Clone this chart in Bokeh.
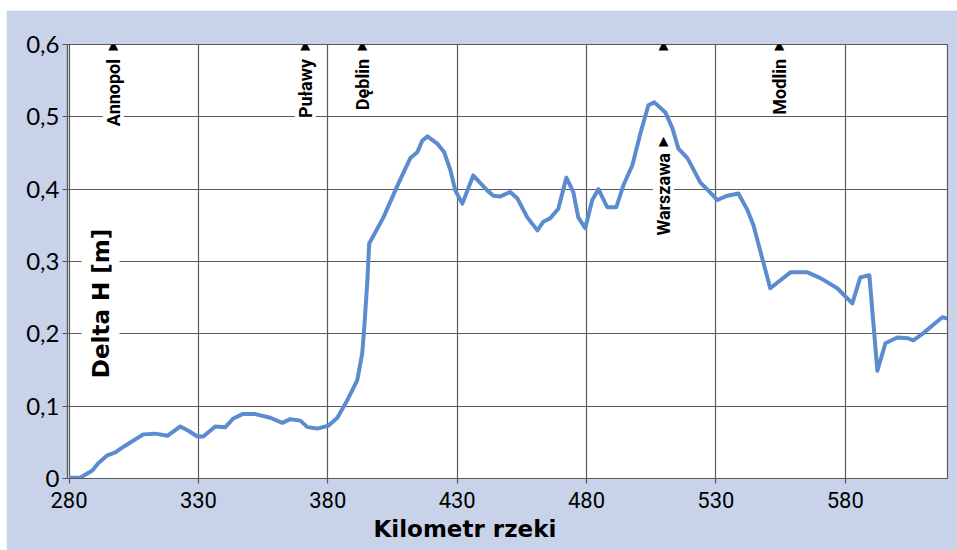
from math import pi
from bokeh.plotting import figure
from bokeh.layouts import column, row
from bokeh.core.properties import value
from bokeh.models import (ColumnDataSource, LabelSet, Label, FixedTicker,
                          CustomJSTickFormatter, Range1d, Spacer, Title)
from bokeh.embed import file_html
from bokeh.resources import INLINE

# --- data ---
km = [280.0, 284.3, 289.0, 291.3, 294.8, 297.9, 299.8, 302.9, 308.7, 313.3,
      318.0, 323.0, 326.1, 329.6, 331.9, 336.5, 340.4, 343.5, 347.0, 352.0,
      357.8, 362.4, 365.5, 369.4, 372.1, 375.9, 380.2, 383.7, 387.5, 391.4,
      393.3, 394.1, 395.3, 396.0, 401.5, 407.3, 411.9, 414.6, 416.5, 418.5,
      422.3, 425.0, 427.4, 429.3, 432.0, 436.2, 441.7, 444.0, 446.7, 450.5,
      453.3, 457.1, 461.0, 463.3, 466.0, 469.1, 472.2, 474.9, 476.8, 479.5,
      482.2, 484.6, 488.0, 491.5, 494.2, 497.7, 500.8, 503.9, 506.2, 510.5,
      513.2, 515.5, 519.0, 524.0, 527.1, 530.6, 534.4, 538.7, 542.2, 544.5,
      551.0, 558.8, 565.4, 570.4, 576.9, 582.7, 585.8, 589.3, 592.4, 595.5,
      600.1, 604.0, 606.3, 610.2, 614.1, 617.5, 619.5]
delta_h = [0.001, 0.001, 0.011, 0.021, 0.032, 0.036, 0.041, 0.048, 0.061, 0.062,
           0.059, 0.072, 0.066, 0.058, 0.058, 0.072, 0.071, 0.083, 0.089, 0.089,
           0.084, 0.077, 0.082, 0.080, 0.071, 0.069, 0.073, 0.084, 0.108, 0.136,
           0.173, 0.209, 0.274, 0.325, 0.361, 0.408, 0.443, 0.451, 0.467, 0.473,
           0.463, 0.451, 0.426, 0.398, 0.380, 0.419, 0.398, 0.391, 0.390, 0.396,
           0.387, 0.361, 0.343, 0.355, 0.360, 0.373, 0.416, 0.396, 0.361, 0.346,
           0.385, 0.400, 0.375, 0.375, 0.405, 0.433, 0.477, 0.516, 0.520, 0.506,
           0.484, 0.456, 0.443, 0.409, 0.398, 0.385, 0.391, 0.394, 0.371, 0.350,
           0.263, 0.285, 0.285, 0.277, 0.263, 0.242, 0.278, 0.281, 0.149, 0.187,
           0.195, 0.194, 0.191, 0.201, 0.213, 0.223, 0.221]

city_names = ["Annopol", "Puławy", "Dęblin", "Warszawa", "Modlin"]
city_km = [297.1, 371.3, 393.3, 509.7, 554.5]

x_ticks = [280, 330, 380, 430, 480, 530, 580]
y_ticks = [0, 0.1, 0.2, 0.3, 0.4, 0.5, 0.6]

BG = "#c8d3ea"
GRID = "#5a5a5a"
LINE = "#5b8ccf"
COND = "Roboto"

p = figure(width=951, height=540, output_backend="svg", toolbar_location=None,
           x_range=Range1d(279.4, 619.5), y_range=Range1d(0, 0.6),
           min_border_left=61, min_border_right=10, min_border_top=34,
           min_border_bottom=72)
p.border_fill_color = BG
p.background_fill_color = "white"
p.outline_line_color = GRID
p.outline_line_width = 1.2

p.xgrid.grid_line_color = GRID
p.ygrid.grid_line_color = GRID
p.xgrid.grid_line_width = 1.2
p.ygrid.grid_line_width = 1.2

p.xaxis.ticker = FixedTicker(ticks=x_ticks)
p.yaxis.ticker = FixedTicker(ticks=y_ticks)
p.yaxis.formatter = CustomJSTickFormatter(
    code='return tick == 0 ? "0" : tick.toFixed(1).replace(".", ",");')

for ax in (p.xaxis[0], p.yaxis[0]):
    ax.axis_line_color = GRID
    ax.axis_line_width = 1.2
    ax.major_tick_line_color = GRID
    ax.major_tick_line_width = 1.2
    ax.major_tick_out = 5
    ax.major_tick_in = 0
    ax.minor_tick_line_color = None
    ax.major_label_text_color = "black"

p.xaxis.major_label_text_font = COND
p.xaxis.major_label_text_font_size = "22px"
p.xaxis.major_label_standoff = 8
p.yaxis.major_label_text_font = "Lato"
p.yaxis.major_label_text_font_size = "24px"
p.yaxis.major_label_standoff = 3

src = ColumnDataSource(data=dict(km=km, dh=delta_h))
p.line("km", "dh", source=src, line_color=LINE, line_width=4, line_join="round")

# city labels (rotated), with white background
label_y = [0.58 if n != "Warszawa" else 0.45 for n in city_names]
lab_src = ColumnDataSource(data=dict(x=city_km, y=label_y, t=city_names))
p.add_layout(LabelSet(x="x", y="y", text="t", source=lab_src, angle=pi / 2,
                      text_align="right", text_baseline="middle",
                      text_font=value(COND), text_font_size=value("18px"),
                      text_font_style=value("bold"),
                      text_color=value("black"), background_fill_color="white"))

# triangle markers
tri_x = city_km + [city_km[3]]
tri_y = [0.6] * len(city_km) + [0.467]
tri_src = ColumnDataSource(data=dict(x=tri_x, y=tri_y, t=["▲"] * len(tri_x)))
p.add_layout(LabelSet(x="x", y="y", text="t", source=tri_src,
                      text_align="center", text_baseline="middle",
                      text_font=value("DejaVu Sans"), text_font_size=value("13px"),
                      text_color=value("black")))

# axis titles
p.add_layout(Label(x=33, y=175, x_units="screen", y_units="screen",
                   text="Delta H [m]", angle=pi / 2, text_align="center",
                   text_baseline="middle", text_font="DejaVu Sans",
                   text_font_style="bold", text_font_size="23px",
                   text_color="black", background_fill_color="white",
                   padding=6))
p.add_layout(Title(text="Kilometr rzeki", align="left", offset=306,
                   text_font="DejaVu Sans", text_font_style="bold",
                   text_font_size="23px", text_color="black", standoff=7),
             "below")

layout = column(Spacer(height=10), row(Spacer(width=6), p))
open("out.html", "w").write(file_html(layout, INLINE))
